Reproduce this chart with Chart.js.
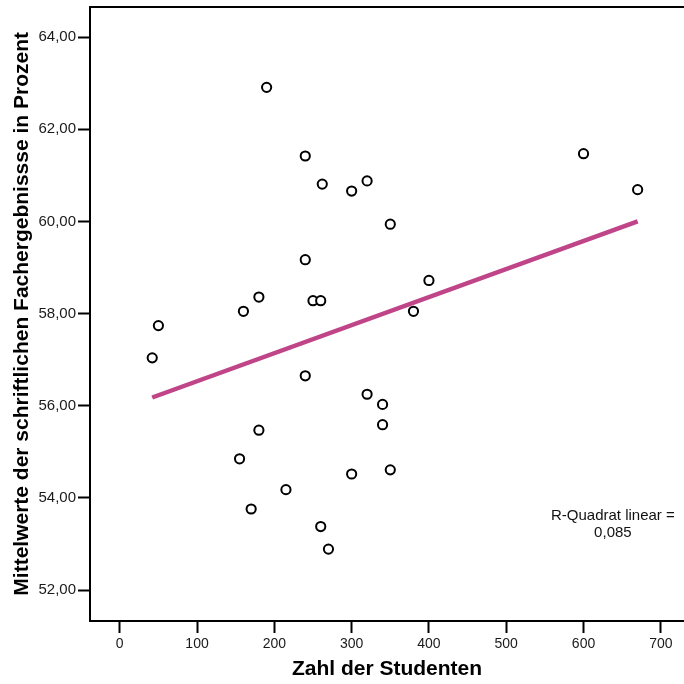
<!DOCTYPE html>
<html>
<head>
<meta charset="utf-8">
<script src="https://cdn.jsdelivr.net/npm/chart.js@4/dist/chart.umd.min.js"></script>
<style>
  html, body { margin: 0; padding: 0; background: #ffffff; }
  #wrap { width: 684px; height: 684px; }
</style>
</head>
<body>
<div id="wrap"><canvas id="c" width="684" height="684"></canvas></div>
<script>
// ---- data ----
const students = [190, 240, 262, 300, 320, 350, 240, 400, 180, 250, 260, 160, 380, 50, 42,
                  240, 320, 340, 340, 180, 155, 300, 350, 215, 170, 260, 270, 600, 670];
const means    = [62.91, 61.42, 60.81, 60.66, 60.88, 59.94, 59.17, 58.72, 58.36, 58.28, 58.28, 58.05, 58.05, 57.74, 57.04,
                  56.65, 56.25, 56.03, 55.59, 55.47, 54.85, 54.52, 54.61, 54.18, 53.76, 53.38, 52.89, 61.47, 60.69];
const fitX = [42, 670];
const fitY = [56.18, 60.00];
const xTicks = [0, 100, 200, 300, 400, 500, 600, 700];
const yTicks = [52, 54, 56, 58, 60, 62, 64];
const rSquareLines = ["R-Quadrat linear =", "0,085"];
const rSquarePos = [638, 53.62, 53.25];
const xTitle = "Zahl der Studenten";
const yTitle = "Mittelwerte der schriftlichen Fachergebnissse in Prozent";

const FONT = '"Liberation Sans", Arial, Helvetica, sans-serif';
const X_MIN = -38.5, X_MAX = 730, Y_MIN = 51.33, Y_MAX = 64.66;

const scatterPts = students.map((v, i) => ({ x: v, y: means[i] }));
const fitPts = fitX.map((v, i) => ({ x: v, y: fitY[i] }));

const annotationPlugin = {
  id: 'rsq',
  afterDatasetsDraw(chart) {
    const { ctx, scales } = chart;
    const px = scales.x.getPixelForValue(rSquarePos[0]);
    ctx.save();
    ctx.fillStyle = '#111111';
    ctx.font = '15px ' + FONT;
    ctx.textAlign = 'center';
    ctx.textBaseline = 'middle';
    ctx.fillText(rSquareLines[0], px, scales.y.getPixelForValue(rSquarePos[1]));
    ctx.fillText(rSquareLines[1], px, scales.y.getPixelForValue(rSquarePos[2]));
    ctx.restore();
  }
};

const fmt = v => v.toFixed(2).replace('.', ',');
const noPad = s => { s.paddingLeft = 0; s.paddingRight = 0; s.paddingTop = 0; s.paddingBottom = 0; };

new Chart(document.getElementById('c'), {
  type: 'scatter',
  data: {
    datasets: [
      {
        label: 'Beobachtet',
        data: scatterPts,
        showLine: false,
        pointRadius: 4.6,
        pointHoverRadius: 4.6,
        pointBorderWidth: 2,
        pointBorderColor: '#000000',
        pointBackgroundColor: '#ffffff',
        order: 0
      },
      {
        label: 'Linear',
        type: 'line',
        data: fitPts,
        borderColor: '#bf4488',
        borderWidth: 4.5,
        pointRadius: 0,
        fill: false,
        order: 1
      }
    ]
  },
  options: {
    responsive: false,
    animation: false,
    devicePixelRatio: 1,
    layout: { padding: 0, autoPadding: false },
    plugins: { legend: { display: false }, tooltip: { enabled: false } },
    scales: {
      x: {
        type: 'linear',
        position: 'bottom',
        min: X_MIN, max: X_MAX,
        afterBuildTicks: s => { s.ticks = xTicks.map(v => ({ value: v })); },
        afterFit: s => { s.height = 63; noPad(s); },
        ticks: { color: '#1a1a1a', font: { family: FONT, size: 14 }, padding: 3, maxRotation: 0, autoSkip: false,
                 callback: v => String(v) },
        grid: { display: true, drawOnChartArea: false, drawTicks: true, tickLength: 12, tickWidth: 2, tickColor: '#000000' },
        border: { display: true, color: '#000000', width: 2 },
        title: { display: true, text: xTitle, color: '#000000', font: { family: FONT, size: 21, weight: 'bold' },
                 padding: { top: 0, bottom: 2 } }
      },
      xTop: {
        type: 'linear',
        position: 'top',
        min: X_MIN, max: X_MAX,
        afterFit: s => { s.height = 6.7; noPad(s); },
        ticks: { display: false },
        grid: { display: false, drawTicks: false },
        border: { display: true, color: '#000000', width: 2 }
      },
      y: {
        type: 'linear',
        position: 'left',
        min: Y_MIN, max: Y_MAX,
        afterBuildTicks: s => { s.ticks = yTicks.map(v => ({ value: v })); },
        afterFit: s => { s.width = 90; noPad(s); },
        ticks: { color: '#1a1a1a', font: { family: FONT, size: 15 }, padding: 2, autoSkip: false,
                 callback: v => fmt(v) },
        grid: { display: true, drawOnChartArea: false, drawTicks: true, tickLength: 12, tickWidth: 2, tickColor: '#000000' },
        border: { display: true, color: '#000000', width: 2 },
        title: { display: true, text: yTitle, color: '#000000', font: { family: FONT, size: 21, weight: 'bold' },
                 padding: { top: 10, bottom: 0 } }
      }
    }
  },
  plugins: [annotationPlugin]
});
</script>
</body>
</html>
